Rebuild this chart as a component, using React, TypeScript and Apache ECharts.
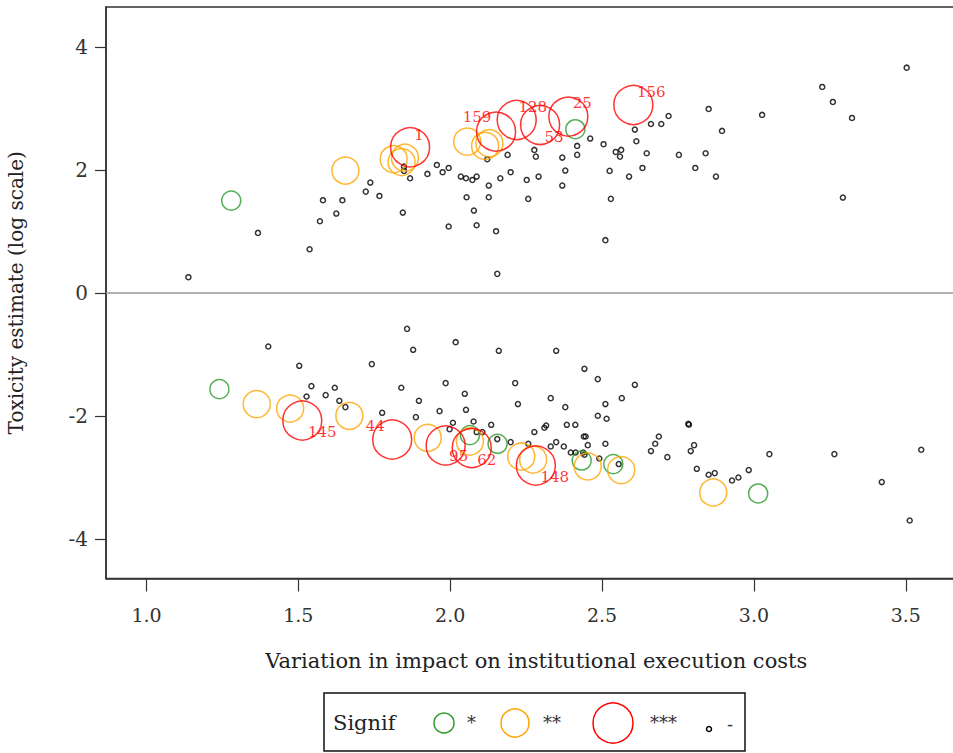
import React, { useEffect, useRef } from "react";
import * as echarts from "echarts";

// Non-significant estimates ("-")
const plainPoints: [number, number][] = [
  [1.138, 0.258], [1.367, 0.978], [1.537, 0.713], [1.571, 1.168], [1.581, 1.51],
  [1.625, 1.292], [1.645, 1.51], [1.722, 1.649], [1.737, 1.796], [1.767, 1.579],
  [1.844, 1.308], [1.848, 2.056], [1.848, 1.986], [1.868, 1.867], [1.925, 1.937],
  [1.956, 2.083], [1.975, 1.965], [1.995, 2.034], [2.035, 1.893], [2.052, 1.867],
  [2.073, 1.839], [2.087, 1.893], [2.122, 2.176], [2.127, 1.747], [2.054, 1.558],
  [2.127, 1.558], [2.078, 1.341], [1.995, 1.081], [2.087, 1.103], [2.151, 1.006],
  [2.155, 0.312], [2.165, 1.867], [2.189, 2.246], [2.199, 1.965], [2.252, 1.839],
  [2.257, 1.531], [2.277, 2.327], [2.282, 2.218], [2.291, 1.893], [2.369, 2.202],
  [2.379, 1.991], [2.369, 1.747], [2.418, 2.392], [2.418, 2.246], [2.461, 2.511],
  [2.505, 2.42], [2.511, 0.86], [2.525, 1.986], [2.529, 1.531], [2.545, 2.294],
  [2.563, 2.327], [2.559, 2.218], [2.589, 1.893], [2.608, 2.657], [2.613, 2.468],
  [2.633, 2.034], [2.647, 2.273], [2.661, 2.749], [2.695, 2.749], [2.719, 2.879],
  [2.753, 2.246], [2.807, 2.034], [2.841, 2.273], [2.851, 2.993], [2.875, 1.893],
  [2.895, 2.636], [3.027, 2.896], [3.225, 3.351], [3.26, 3.107], [3.323, 2.847],
  [3.503, 3.664], [3.293, 1.552],
  [1.401, -0.869], [1.503, -1.183], [1.543, -1.513], [1.527, -1.682], [1.62, -1.54],
  [1.59, -1.659], [1.635, -1.752], [1.655, -1.854], [1.858, -0.582], [1.878, -0.923],
  [1.742, -1.155], [1.839, -1.54], [1.897, -1.752], [1.776, -1.947], [1.887, -2.017],
  [1.985, -1.464], [1.965, -1.919], [2.018, -0.798], [2.009, -2.109], [1.998, -2.212],
  [2.16, -0.939], [2.349, -0.939], [2.442, -1.232], [2.486, -1.399], [2.608, -1.492],
  [2.048, -1.638], [2.214, -1.464], [2.223, -1.805], [2.331, -1.708], [2.379, -1.854],
  [2.511, -1.805], [2.565, -1.708], [2.052, -1.898], [2.486, -1.995], [2.515, -2.044],
  [2.077, -2.088], [2.135, -2.142], [2.087, -2.26], [2.106, -2.26], [2.155, -2.374],
  [2.199, -2.423], [2.257, -2.45], [2.277, -2.26], [2.31, -2.19], [2.316, -2.153],
  [2.384, -2.142], [2.412, -2.142], [2.349, -2.423], [2.331, -2.494], [2.374, -2.494],
  [2.44, -2.332], [2.446, -2.332], [2.453, -2.472], [2.397, -2.592], [2.413, -2.592],
  [2.438, -2.592], [2.442, -2.629], [2.511, -2.45], [2.491, -2.689], [2.555, -2.78],
  [2.687, -2.332], [2.675, -2.45], [2.661, -2.569], [2.715, -2.667], [2.784, -2.125],
  [2.786, -2.141], [2.803, -2.472], [2.792, -2.569], [2.812, -2.857], [2.851, -2.954],
  [2.871, -2.927], [2.928, -3.047], [2.949, -2.998], [2.983, -2.878], [3.051, -2.618],
  [3.265, -2.618], [3.421, -3.073], [3.513, -3.697], [3.551, -2.548],
];

// Significant at "*"
const oneStarPoints: [number, number][] = [
  [1.279, 1.503], [2.412, 2.663],
  [1.24, -1.562], [2.065, -2.309], [2.156, -2.45], [2.433, -2.722], [2.537, -2.78],
  [3.014, -3.258],
];

// Significant at "**"
const twoStarPoints: [number, number][] = [
  [1.655, 1.991], [1.814, 2.176], [1.84, 2.13], [1.851, 2.2],
  [2.056, 2.462], [2.129, 2.436], [2.115, 2.392],
  [1.363, -1.805], [1.473, -1.877], [1.668, -1.995], [1.926, -2.353], [2.065, -2.413],
  [2.234, -2.657], [2.273, -2.706], [2.453, -2.819], [2.563, -2.878], [2.866, -3.242],
];

// Significant at "***"
const threeStarPoints: [number, number][] = [
  [1.868, 2.371], [2.151, 2.624], [2.219, 2.814], [2.296, 2.733], [2.389, 2.868],
  [2.603, 3.058],
  [1.513, -2.072], [1.809, -2.381], [1.985, -2.478], [2.071, -2.52], [2.282, -2.803],
];
const threeStarLabels = ["1", "159", "128", "53", "25", "156", "145", "44", "95", "62", "148"];
// label placement offsets (px) relative to circle centre
const threeStarLabelOffsets: [number, number][] = [
  [9, -12], [-19, -15], [16, -13], [14, 12], [14, -14], [18, -13],
  [20, 11], [-17, -14], [13, 11], [15, 12], [19, 12],
];

const xTicks = [1.0, 1.5, 2.0, 2.5, 3.0, 3.5];
const yTicks = [-4, -2, 0, 2, 4];

const FONT = "DejaVu Serif";

export default function App() {
  const ref = useRef<HTMLDivElement>(null);
  useEffect(() => {
    if (!ref.current) return;
    const chart = echarts.init(ref.current, null, { renderer: "svg" });
    const ring = (color: string) => ({
      color: "transparent",
      borderColor: color,
      borderWidth: 1.5,
    });
    chart.setOption({
      animation: false,
      backgroundColor: "#ffffff",
      textStyle: { fontFamily: FONT, color: "#222" },
      grid: {
        left: 106,
        top: 7,
        width: 860.5,
        height: 571.5,
        outerBoundsMode: "none",
        containLabel: false,
        show: true,
        borderColor: "#333",
        borderWidth: 1.5,
        backgroundColor: "transparent",
      },
      xAxis: {
        type: "value",
        min: 0.8667,
        max: 3.7,
        splitLine: { show: false },
        axisLine: { show: true, onZero: false, lineStyle: { color: "#333", width: 1.5 } },
        axisTick: {
          show: true,
          customValues: xTicks,
          length: 13,
          lineStyle: { color: "#333", width: 1.2 },
        },
        axisLabel: {
          customValues: xTicks,
          formatter: (v: number) => v.toFixed(1),
          fontSize: 19,
          fontFamily: FONT,
          color: "#333",
          margin: 27,
        },
        name: "Variation in impact on institutional execution costs",
        nameLocation: "middle",
        nameGap: 72,
        nameTextStyle: { fontSize: 21, fontFamily: FONT, color: "#222" },
      },
      yAxis: {
        type: "value",
        min: -4.64,
        max: 4.65,
        splitLine: { show: false },
        axisLine: { show: true, onZero: false, lineStyle: { color: "#333", width: 1.5 } },
        axisTick: {
          show: true,
          customValues: yTicks,
          length: 11,
          lineStyle: { color: "#333", width: 1.2 },
        },
        axisLabel: {
          customValues: yTicks,
          formatter: (v: number) => String(v),
          fontSize: 20,
          fontFamily: FONT,
          color: "#333",
          margin: 18,
        },
        name: "Toxicity estimate (log scale)",
        nameLocation: "middle",
        nameGap: 80,
        nameTextStyle: { fontSize: 20, fontFamily: FONT, color: "#222" },
      },
      series: [
        {
          name: "-",
          type: "scatter",
          symbol: "circle",
          symbolSize: 5,
          itemStyle: ring("#000"),
          data: plainPoints,
          markLine: {
            silent: true,
            symbol: ["none", "none"],
            label: { show: false },
            lineStyle: { color: "#999", width: 1.5, type: "solid" },
            data: [{ yAxis: 0 }],
          },
          z: 2,
        },
        {
          name: "*",
          type: "scatter",
          symbol: "circle",
          symbolSize: 19,
          itemStyle: ring("#2a9a2a"),
          data: oneStarPoints,
          z: 3,
        },
        {
          name: "**",
          type: "scatter",
          symbol: "circle",
          symbolSize: 27,
          itemStyle: ring("#FFA500"),
          data: twoStarPoints,
          z: 3,
        },
        {
          name: "***",
          type: "scatter",
          symbol: "circle",
          symbolSize: 39,
          itemStyle: ring("#FF0000"),
          data: threeStarPoints.map((p, i) => ({
            value: p,
            label: {
              show: true,
              formatter: threeStarLabels[i],
              position: "inside",
              offset: threeStarLabelOffsets[i],
              color: "#FF0000",
              fontSize: 15,
              fontFamily: FONT,
            },
          })),
          z: 4,
        },
      ],
      graphic: [
        {
          type: "group",
          children: [
            {
              type: "rect",
              shape: { x: 324, y: 693, width: 421, height: 58 },
              style: { fill: "#fff", stroke: "#111", lineWidth: 1.5 },
            },
            {
              type: "text",
              x: 333,
              y: 723,
              style: { text: "Signif", fontSize: 21, fontFamily: FONT, fill: "#222", verticalAlign: "middle" },
            },
            {
              type: "circle",
              shape: { cx: 444, cy: 723, r: 10 },
              style: { fill: "none", stroke: "#2a9a2a", lineWidth: 1.5 },
            },
            {
              type: "text",
              x: 467,
              y: 722,
              style: { text: "*", fontSize: 18, fontFamily: FONT, fill: "#333", verticalAlign: "middle" },
            },
            {
              type: "circle",
              shape: { cx: 515, cy: 723, r: 14 },
              style: { fill: "none", stroke: "#FFA500", lineWidth: 1.5 },
            },
            {
              type: "text",
              x: 543,
              y: 722,
              style: { text: "**", fontSize: 18, fontFamily: FONT, fill: "#333", verticalAlign: "middle" },
            },
            {
              type: "circle",
              shape: { cx: 613, cy: 723, r: 20 },
              style: { fill: "none", stroke: "#FF0000", lineWidth: 1.5 },
            },
            {
              type: "text",
              x: 650,
              y: 722,
              style: { text: "***", fontSize: 18, fontFamily: FONT, fill: "#333", verticalAlign: "middle" },
            },
            {
              type: "circle",
              shape: { cx: 709, cy: 729, r: 2.5 },
              style: { fill: "none", stroke: "#000", lineWidth: 1.5 },
            },
            {
              type: "text",
              x: 727,
              y: 724,
              style: { text: "-", fontSize: 18, fontFamily: FONT, fill: "#333", verticalAlign: "middle" },
            },
          ],
        },
      ],
    });
    return () => chart.dispose();
  }, []);
  return (
    <div
      ref={ref}
      style={{ position: "fixed", left: 0, top: 0, width: 953, height: 753, background: "#fff" }}
    />
  );
}
